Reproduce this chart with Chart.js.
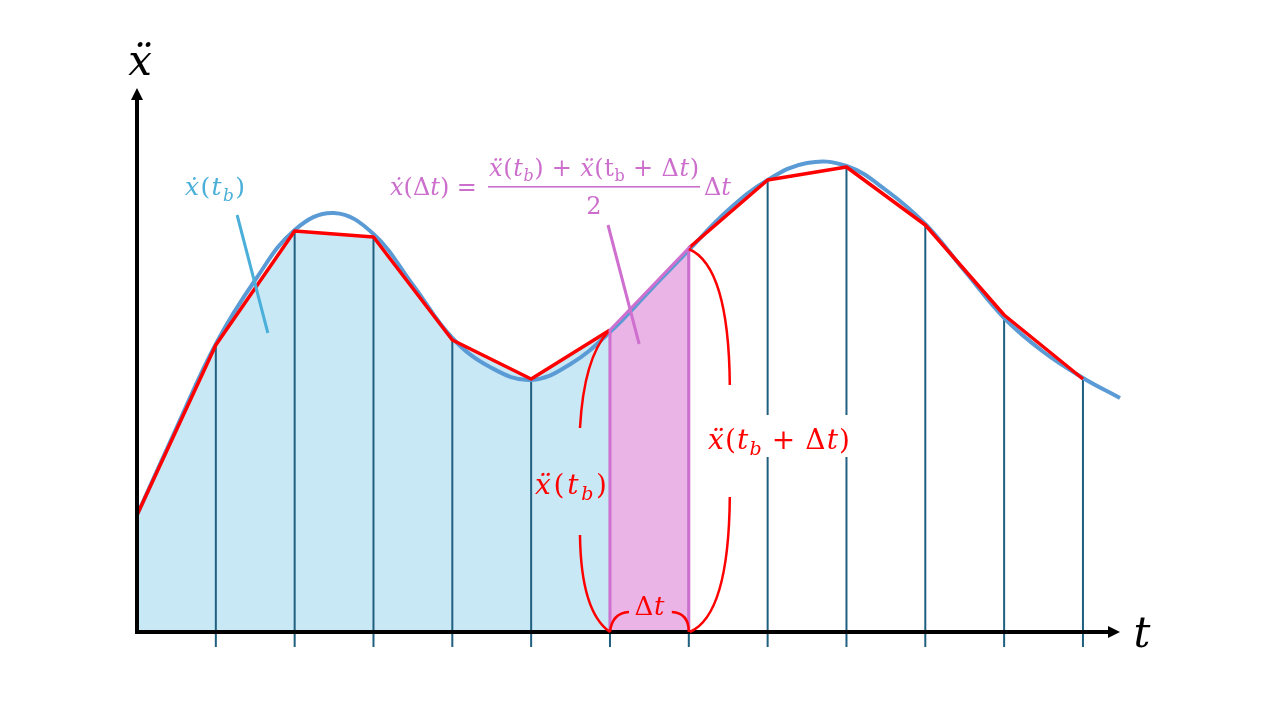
<!DOCTYPE html>
<html>
<head>
<meta charset="utf-8">
<script src="https://cdn.jsdelivr.net/npm/chart.js@4"></script>
<style>
  html, body { margin: 0; padding: 0; background: #ffffff; }
  #wrap { width: 1280px; height: 720px; }
</style>
</head>
<body>
<div id="wrap"><canvas id="myChart" width="1280" height="720"></canvas></div>
<script>
// sample instants (t) and the acceleration read at each one
const sampleT = [0, 1, 2, 3, 4, 5, 6, 7, 8, 9, 10, 11, 12];
const sampleAcc = [1.17, 2.87, 4.01, 3.95, 2.92, 2.53, 3.02, 3.84, 4.52, 4.65, 4.07, 3.17, 2.53];

// the smooth "true" curve, every half step
const curveT = [0, 0.5, 1, 1.5, 2, 2.5, 3, 3.5, 4, 4.5, 5, 5.5, 6, 6.5, 7, 7.5, 8, 8.5, 9, 9.5, 10, 10.5, 11, 11.5, 12, 12.47];
const curveAcc = [1.17, 2.04, 2.88, 3.52, 4.02, 4.19, 3.98, 3.47, 2.94, 2.64, 2.52, 2.68, 3.00, 3.41, 3.82, 4.22, 4.52, 4.69, 4.66, 4.42, 4.08, 3.61, 3.14, 2.80, 2.54, 2.34];

const bIndex = 6;         // t_b
const tickDepth = -0.15;  // drop lines go a bit under the axis
const axisEndT = 12.47;
const axisTopAcc = 5.44;

const colors = {
    areaBlue: "#C9E8F5",
    areaPink: "#EAB4E6",
    pink: "#CF6FCF",
    pinkText: "#CC6FCC",
    red: "#FF0000",
    curve: "#5B9BD5",
    drop: "#1F5F80",
    blueText: "#4AAFD9"
};

// ---- build datasets from the arrays ----
const pts = (ts, vs) => ts.map((t, i) => ({ x: t, y: vs[i] }));

const redPts = [];
sampleT.forEach((t, i) => {
    redPts.push({ x: t, y: sampleAcc[i] });
    if (i === bIndex) redPts.push({ x: t + 0.5, y: null }); // pink segment replaces red here
});

const dropPts = [];
sampleT.forEach((t, i) => {
    if (i === 0) return;
    dropPts.push({ x: t, y: tickDepth }, { x: t, y: sampleAcc[i] }, { x: t, y: null });
});

const blueArea = pts(sampleT.slice(0, bIndex + 1), sampleAcc.slice(0, bIndex + 1));
const tb = sampleT[bIndex], tb2 = sampleT[bIndex + 1];
const pinkArea = [
    { x: tb, y: 0 }, { x: tb, y: sampleAcc[bIndex] },
    { x: tb2, y: sampleAcc[bIndex + 1] }, { x: tb2, y: 0 }
];

// ---- rich math text helper (spreads pieces out to a target width, like the equation editor does) ----
const FAM = '"DejaVu Serif", "Liberation Serif", serif';
function rich(ctx, segs, x, y, size, color, align, targetW) {
    const fontOf = (f) => (f.includes("i") ? "italic " : "") + Math.round(f.includes("s") ? size * 0.68 : size) + "px " + FAM;
    let w = 0;
    const widths = segs.map(([s, f]) => { ctx.font = fontOf(f); const m = ctx.measureText(s).width; w += m; return m; });
    let gap = 0;
    if (targetW && segs.length > 1) gap = Math.max(0, (targetW - w) / (segs.length - 1));
    const total = w + gap * (segs.length - 1);
    let cx = align === "center" ? x - total / 2 : (align === "right" ? x - total : x);
    ctx.fillStyle = color;
    ctx.textAlign = "left";
    ctx.textBaseline = "alphabetic";
    segs.forEach(([s, f], i) => {
        ctx.font = fontOf(f);
        ctx.fillText(s, cx, y + (f.includes("s") ? size * 0.22 : 0));
        cx += widths[i] + gap;
    });
    return total;
}

const annotations = {
    id: "annotations",
    afterDatasetsDraw(chart) {
        const ctx = chart.ctx;
        const X = chart.scales.x, Y = chart.scales.y;
        const px = (t) => X.getPixelForValue(t);
        const py = (v) => Y.getPixelForValue(v);
        ctx.save();

        // axes with arrow heads
        const ox = px(0), oy = py(0), ex = px(axisEndT), ey = py(axisTopAcc);
        ctx.strokeStyle = "#000";
        ctx.fillStyle = "#000";
        ctx.lineWidth = 4;
        ctx.beginPath();
        ctx.moveTo(ox, oy); ctx.lineTo(ex - 8, oy);
        ctx.moveTo(ox, oy + 2); ctx.lineTo(ox, ey + 8);
        ctx.stroke();
        ctx.beginPath();
        ctx.moveTo(ex, oy); ctx.lineTo(ex - 12, oy - 6); ctx.lineTo(ex - 12, oy + 6); ctx.closePath();
        ctx.moveTo(ox, ey); ctx.lineTo(ox - 6, ey + 12); ctx.lineTo(ox + 6, ey + 12); ctx.closePath();
        ctx.fill();

        // callout lines
        ctx.lineWidth = 3;
        ctx.lineCap = "butt";
        ctx.strokeStyle = colors.blueText;
        ctx.beginPath(); ctx.moveTo(px(1.27), py(4.17)); ctx.lineTo(px(1.66), py(2.99)); ctx.stroke();
        ctx.strokeStyle = colors.pink;
        ctx.beginPath(); ctx.moveTo(px(5.975), py(4.07)); ctx.lineTo(px(6.37), py(2.88)); ctx.stroke();

        // brackets
        const bx = px(tb), by = py(sampleAcc[bIndex]);
        const cx2 = px(tb2), cy2 = py(sampleAcc[bIndex + 1]);
        ctx.strokeStyle = colors.red;
        ctx.lineWidth = 2.5;
        ctx.beginPath();
        ctx.moveTo(bx - 30, oy - 97); ctx.quadraticCurveTo(bx - 29, oy - 20, bx, oy);
        ctx.moveTo(bx - 30, oy - 204); ctx.quadraticCurveTo(bx - 26, by + 28, bx - 2, by + 2);
        ctx.moveTo(cx2, cy2 + 1); ctx.quadraticCurveTo(cx2 + 40, cy2 + 18, cx2 + 41, oy - 247);
        ctx.moveTo(cx2 + 41, oy - 135); ctx.quadraticCurveTo(cx2 + 40, oy - 17, cx2 + 1, oy);
        ctx.moveTo(bx, oy); ctx.quadraticCurveTo(bx + 2, oy - 19, bx + 19, oy - 20);
        ctx.moveTo(cx2 - 17, oy - 20); ctx.quadraticCurveTo(cx2, oy - 19, cx2, oy);
        ctx.stroke();

        // labels
        rich(ctx, [["ẍ", "i"]], ox + 3, 75, 42, "#000", "center");
        rich(ctx, [["t", "i"]], ex + 22, oy + 15, 42, "#000", "center");
        rich(ctx, [["ẋ", "i"], ["(", ""], ["t", "i"], ["b", "is"], [")", ""]], 215, 195, 25, colors.blueText, "center", 60);

        // formula
        rich(ctx, [["ẋ", "i"], ["(", ""], ["Δ", ""], ["t", "i"], [")", ""], [" = ", ""]], 390, 195, 24, colors.pinkText, "left", 90);
        rich(ctx, [["ẍ", "i"], ["(", ""], ["t", "i"], ["b", "is"], [")", ""], [" + ", ""], ["ẍ", "i"], ["(", ""], ["t", ""], ["b", "s"], [" + ", ""], ["Δ", ""], ["t", "i"], [")", ""]],
            594, 176, 24, colors.pinkText, "center", 210);
        ctx.fillStyle = colors.pinkText;
        ctx.fillRect(488, 186, 212, 1.6);
        rich(ctx, [["2", ""]], 594, 214, 24, colors.pinkText, "center");
        rich(ctx, [["Δ", ""], ["t", "i"]], 704, 195, 24, colors.pinkText, "left", 26);

        // red labels
        rich(ctx, [["ẍ", "i"], ["(", ""], ["t", "i"], ["b", "is"], [")", ""]], 571, 494, 28, colors.red, "center", 72);
        ctx.fillStyle = "#fff";
        ctx.fillRect(706, 415, 148, 42);
        rich(ctx, [["ẍ", "i"], ["(", ""], ["t", "i"], ["b", "is"], [" + ", ""], ["Δ", ""], ["t", "i"], [")", ""]], 779, 449, 28, colors.red, "center", 142);
        rich(ctx, [["Δ", ""], ["t", "i"]], (bx + cx2) / 2, 615, 26, colors.red, "center", 30);

        ctx.restore();
    }
};

const ctx = document.getElementById("myChart").getContext("2d");
new Chart(ctx, {
    type: "line",
    data: {
        datasets: [
            { label: "area", data: blueArea, fill: "origin", backgroundColor: colors.areaBlue, borderWidth: 0, pointRadius: 0, tension: 0, order: 7 },
            { label: "step", data: pinkArea, fill: "origin", backgroundColor: colors.areaPink, borderWidth: 0, pointRadius: 0, tension: 0, order: 6 },
            { label: "drops", data: dropPts, borderColor: colors.drop, borderWidth: 2, pointRadius: 0, spanGaps: false, tension: 0, fill: false, order: 5 },
            { label: "curve", data: pts(curveT, curveAcc), borderColor: colors.curve, borderWidth: 4, pointRadius: 0, tension: 0.4, fill: false, order: 4 },
            { label: "samples", data: redPts, borderColor: colors.red, borderWidth: 3.5, pointRadius: 0, spanGaps: false, tension: 0, fill: false, borderJoinStyle: "round", order: 3 },
            { label: "stepEdge", data: pinkArea, borderColor: colors.pink, borderWidth: 3, pointRadius: 0, tension: 0, fill: false, order: 2 }
        ]
    },
    options: {
        responsive: false,
        animation: false,
        devicePixelRatio: 1,
        layout: { padding: 0 },
        scales: {
            x: { type: "linear", min: -1.7379, max: 14.4996, display: false },
            y: { type: "linear", min: -0.88, max: 6.32, display: false }
        },
        plugins: {
            legend: { display: false },
            tooltip: { enabled: false }
        }
    },
    plugins: [annotations]
});
</script>
</body>
</html>
